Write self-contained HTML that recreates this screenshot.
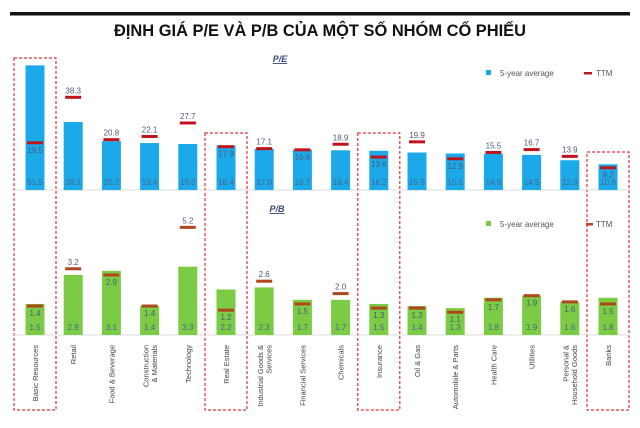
<!DOCTYPE html>
<html><head><meta charset="utf-8"><style>
body{margin:0;background:#fff;width:640px;height:423px;overflow:hidden;font-family:"Liberation Sans",sans-serif}
</style></head><body>
<svg id="c" width="640" height="423" xmlns="http://www.w3.org/2000/svg">
<rect x="10" y="12" width="620" height="3.5" fill="#111"/>
<text x="320" y="36" text-anchor="middle" font-size="16.5" font-weight="bold" fill="#111" textLength="412" lengthAdjust="spacingAndGlyphs" font-family="Liberation Sans Narrow, Liberation Sans, sans-serif">ĐỊNH GIÁ P/E VÀ P/B CỦA MỘT SỐ NHÓM CỔ PHIẾU</text>
<text x="280" y="62" text-anchor="middle" font-size="9" font-weight="bold" font-style="italic" fill="#3a4a7a" text-decoration="underline">P/E</text>
<text x="277" y="212" text-anchor="middle" font-size="9" font-weight="bold" font-style="italic" fill="#3a4a7a" text-decoration="underline">P/B</text>
<g>
<rect x="486" y="70" width="5" height="5" fill="#1aa7e8"/>
<text x="500" y="76" font-size="8" fill="#555">5-year average</text>
<rect x="584" y="72" width="8" height="2.5" fill="#c0141c"/>
<text x="596" y="76" font-size="8" fill="#555">TTM</text>
</g>
<g>
<rect x="486" y="221" width="5" height="5" fill="#7ac943"/>
<text x="500" y="227" font-size="8" fill="#555">5-year average</text>
<rect x="586" y="223" width="7" height="2.5" fill="#b0461c"/>
<text x="596" y="227" font-size="8" fill="#555">TTM</text>
</g>
<g id="marks"></g>
</svg>
<script>
const categories=["Basic Resources","Retail","Food & Beverage","Construction|& Materials","Technology","Real Estate","Industrial Goods &|Services","Financial Services","Chemicals","Insurance","Oil & Gas","Automobile & Parts","Health Care","Utilities","Personal &|Household Goods","Banks"];
const peAvg=[51.5,28.1,20.2,19.4,19.0,18.4,17.0,16.7,16.4,16.2,15.5,15.1,14.9,14.5,12.3,10.6];
const peTtm=[19.5,38.3,20.8,22.1,27.7,17.9,17.1,16.6,18.9,13.6,19.9,12.9,15.5,16.7,13.9,9.2];
const pbAvg=[1.5,2.9,3.1,1.4,3.3,2.2,2.3,1.7,1.7,1.5,1.4,1.3,1.8,1.9,1.6,1.8];
const pbTtm=[1.4,3.2,2.9,1.4,5.2,1.2,2.6,1.5,2.0,1.3,1.3,1.1,1.7,1.9,1.6,1.5];
const highlighted=[0,5,9,15];

const NS="http://www.w3.org/2000/svg";
const g=document.getElementById('marks');
function el(t,a,p){const e=document.createElementNS(NS,t);for(const k in a)e.setAttribute(k,a[k]);(p||g).appendChild(e);return e;}
const xC=i=>35+i*38.2;
const peBase=190,peK=2.42,pbBase=335,pbK=20.7;
const yPE=v=>peBase-v*peK, yPB=v=>pbBase-v*pbK;
const boxTop=[58,133,133,152];
highlighted.forEach((i,j)=>{
 const r=el('rect',{x:xC(i)-21,y:boxTop[j],width:42,height:410-boxTop[j],fill:'none',stroke:'#d9343c','stroke-width':1.2,'stroke-dasharray':'3,2'});
 
 
});
let ax=el('line',{x1:12,x2:630,y1:peBase,y2:peBase,stroke:'#ddd'});

ax=el('line',{x1:12,x2:630,y1:pbBase,y2:pbBase,stroke:'#ddd'});

function panel(avg,ttm,yf,base,col,tcol,pfx){
 avg.forEach((v,i)=>{
  const x=xC(i);
  const b=el('rect',{x:x-9.5,y:yf(v),width:19,height:base-yf(v),fill:col});
  
  
  const t=el('text',{x:x,y:base-5,'text-anchor':'middle','font-size':8,fill:'#4a6688'});
  t.textContent=v.toFixed(1);
  
  
  const tv=ttm[i],ty=yf(tv);
  const m=el('rect',{x:x-8,y:ty-1.5,width:16,height:3,fill:tcol});
  
  
  const above=tv>v;
  const l=el('text',{x:x,y:above?ty-4:ty+10,'text-anchor':'middle','font-size':8,fill:'#4a5a78'});
  l.textContent=tv.toFixed(1);
  
  
 });
}
panel(peAvg,peTtm,yPE,peBase,'#1ca9ea','#c0141c','pe');
panel(pbAvg,pbTtm,yPB,pbBase,'#7ccb45','#b0461c','pb');
categories.forEach((c,i)=>{
 const lines=c.split('|');
 const t=el('text',{transform:`translate(${xC(i)},345) rotate(-90)`,'text-anchor':'end','font-size':7.5,fill:'#444'});
 lines.forEach((s,k)=>{const sp=el('tspan',{x:0,y:(k-(lines.length-1)/2)*8.5+3},t);sp.textContent=s;});
 
 
});
</script>
</body></html>
